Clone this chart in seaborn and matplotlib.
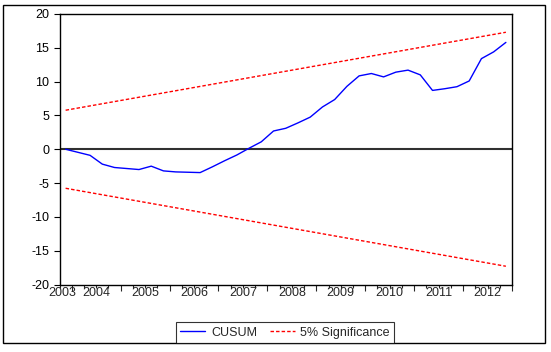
import numpy as np
import pandas as pd
import matplotlib
matplotlib.use("Agg")
import matplotlib.pyplot as plt
import seaborn as sns
from matplotlib.ticker import FixedLocator, NullFormatter
from matplotlib.patches import Rectangle

# ---- data ----
first_q = "2003Q4"
last_q = "2012Q4"
cusum = [0.0, -0.45, -0.9, -2.2, -2.7, -2.85, -3.0, -2.5, -3.2, -3.35, -3.4, -3.45,
         -2.6, -1.7, -0.85, 0.15, 1.1, 2.7, 3.1, 3.9, 4.75, 6.25, 7.35, 9.3, 10.85,
         11.2, 10.7, 11.4, 11.7, 11.0, 8.7, 8.95, 9.25, 10.1, 13.4, 14.4, 15.8]
upper_bound = [5.77, 17.30]   # at first and last quarter
lower_bound = [-5.77, -17.30]
year_labels = ["2003", "2004", "2005", "2006", "2007", "2008", "2009", "2010", "2011", "2012"]
y_ticks = [-20, -15, -10, -5, 0, 5, 10, 15, 20]

quarters = pd.period_range(first_q, last_q, freq="Q")
xq = quarters.year + (quarters.quarter - 0.5) / 4.0

df = pd.DataFrame({"x": xq, "CUSUM": cusum})
dfb = pd.DataFrame({"x": [xq[0], xq[-1]], "upper": upper_bound, "lower": lower_bound})

sns.set_style("white")
plt.rcParams["font.family"] = ["Liberation Sans", "DejaVu Sans"]

W, H = 551, 352
fig = plt.figure(figsize=(W / 100, H / 100), dpi=100)
fig.patch.set_facecolor("white")
ax = fig.add_axes([59.5 / W, 1 - 284.5 / H, (512 - 59.5) / W, (284.5 - 14) / H])

ax.axhline(0, color="#303030", lw=1.5, zorder=1)
sns.lineplot(data=df, x="x", y="CUSUM", color="#0000ff", lw=1.0, ax=ax,
             label="CUSUM", zorder=3)
sns.lineplot(data=dfb, x="x", y="upper", color="#ff0000", lw=1.0, ax=ax,
             linestyle=(0, (2.5, 1.5)), label="5% Significance", zorder=2)
sns.lineplot(data=dfb, x="x", y="lower", color="#ff0000", lw=1.0, ax=ax,
             linestyle=(0, (2.5, 1.5)), label="_nolegend_", zorder=2)

ax.set_xlim(2003.75, 2013.0)
ax.set_ylim(-20, 20)
ax.set_xlabel("")
ax.set_ylabel("")

ax.set_yticks(y_ticks)
ax.set_yticklabels([str(v) for v in y_ticks])
ax.tick_params(axis="y", direction="out", length=4, width=0.8, pad=3.5,
               labelsize=9, left=True, right=False, colors="black")

years = list(range(2004, 2014))
ax.xaxis.set_major_locator(FixedLocator(years))
ax.xaxis.set_major_formatter(NullFormatter())
ax.xaxis.set_minor_locator(FixedLocator([2003.75 + 0.25 * k for k in range(38)]))
ax.tick_params(axis="x", which="major", direction="out", length=4, width=0.8, bottom=True)
ax.tick_params(axis="x", which="minor", direction="out", length=2.2, width=0.8, bottom=True)

label_pos = [2003.80] + [int(y) + 0.5 for y in year_labels[1:]]
sec = ax.secondary_xaxis("bottom")
sec.set_xticks(label_pos)
sec.set_xticklabels(year_labels)
sec.tick_params(length=0, pad=1.5, labelsize=9)
sec.spines["bottom"].set_visible(False)

for s in ax.spines.values():
    s.set_visible(True)
    s.set_color("black")
    s.set_linewidth(1.0)

if ax.get_legend() is not None:
    ax.get_legend().remove()
handles, labels = ax.get_legend_handles_labels()
leg = fig.legend(handles, labels, loc="lower left", bbox_to_anchor=(176 / W, 9 / H),
                 ncol=2, frameon=True, fancybox=False, edgecolor="black",
                 borderpad=0.35, handlelength=2.0, handletextpad=0.45,
                 columnspacing=1.0, borderaxespad=0, fontsize=9)
leg.get_frame().set_linewidth(0.8)

fig.add_artist(Rectangle((3 / W, 9 / H), 542 / W, 338 / H, transform=fig.transFigure,
                         fill=False, edgecolor="black", lw=1.0))

fig.savefig("out.png", dpi=100, facecolor="white")
